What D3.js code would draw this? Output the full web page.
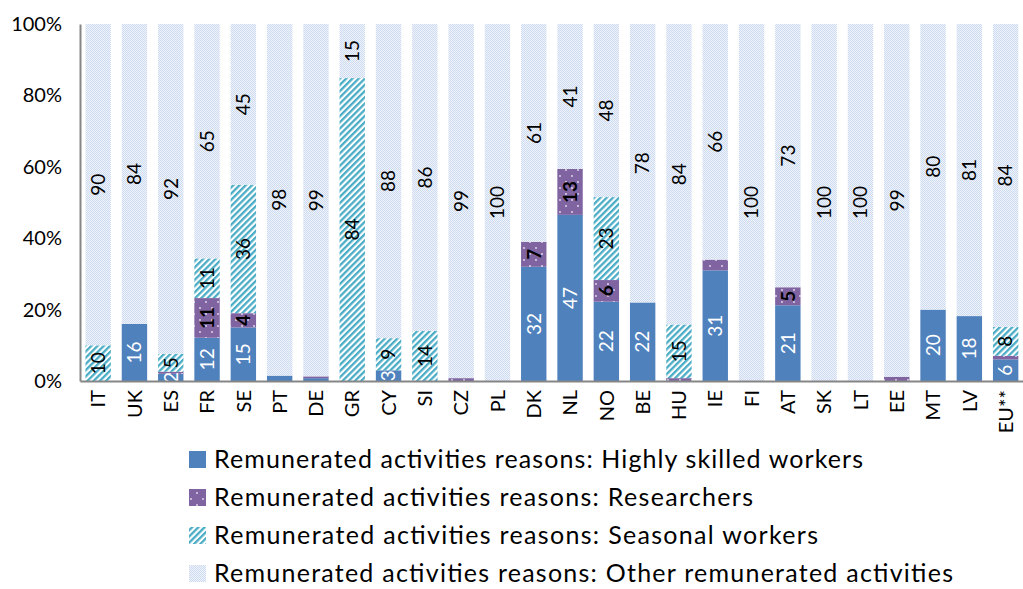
<!DOCTYPE html>
<html>
<head>
<meta charset="utf-8">
<script src="https://cdn.jsdelivr.net/npm/d3@7/dist/d3.min.js"></script>
<style>
  body { margin: 0; background: #fff; }
  text { font-family: Lato, "Open Sans", sans-serif; }
</style>
</head>
<body>
<div class="chart"></div>
<script>
var countries = ['IT','UK','ES','FR','SE','PT','DE','GR','CY','SI','CZ','PL','DK','NL','NO','BE','HU','IE','FI','AT','SK','LT','EE','MT','LV','EU**'];
var highlySkilled = [0,16,2,12,15,1.5,0.8,0,3,0,0,0,32,47,22,22,0,31,0,21,0,0,0,20,18,6];
var researchers   = [0,0,0.6,11,4,0,0.5,0,0,0,0.8,0,7,13,6,0,0.8,3,0,5,0,0,1.2,0,0,1];
var seasonal      = [10,0,5,11,36,0,0,84,9,14,0,0,0,0,23,0,15,0,0,0,0,0,0,0,0,8];
var otherActs     = [90,84,92,65,45,98,99,15,88,86,99,100,61,41,48,78,84,66,100,73,100,100,99,80,81,84];
var yTicks = [0, 0.2, 0.4, 0.6, 0.8, 1];
var seriesNames = [
  'Remunerated activities reasons: Highly skilled workers',
  'Remunerated activities reasons: Researchers',
  'Remunerated activities reasons: Seasonal workers',
  'Remunerated activities reasons: Other remunerated activities'
];
var noLabel = ['IE|1']; // researchers label not shown for IE

var keys = ['hs','re','se','ot'];
var rows = countries.map(function(c, i) {
  return { c: c, hs: highlySkilled[i], re: researchers[i], se: seasonal[i], ot: otherActs[i] };
});

var W = 1023, H = 589;
var svg = d3.select('.chart').append('svg').attr('width', W).attr('height', H);

// patterns
var defs = svg.append('defs');
var pr = defs.append('pattern').attr('id', 'p-re').attr('patternUnits', 'userSpaceOnUse')
  .attr('width', 12).attr('height', 12);
pr.append('rect').attr('width', 12).attr('height', 12).attr('fill', '#8064A2');
pr.append('circle').attr('cx', 2).attr('cy', 2).attr('r', 0.9).attr('fill', '#e8e0f0');
pr.append('circle').attr('cx', 8).attr('cy', 8).attr('r', 0.9).attr('fill', '#e8e0f0');

var ps = defs.append('pattern').attr('id', 'p-se').attr('patternUnits', 'userSpaceOnUse')
  .attr('width', 4.4).attr('height', 4.4).attr('patternTransform', 'rotate(45)');
ps.append('rect').attr('width', 4.4).attr('height', 4.4).attr('fill', '#fff');
ps.append('rect').attr('width', 2.3).attr('height', 4.4).attr('fill', '#4BACC6');

var po = defs.append('pattern').attr('id', 'p-ot').attr('patternUnits', 'userSpaceOnUse')
  .attr('width', 2).attr('height', 2);
po.append('rect').attr('width', 2).attr('height', 2).attr('fill', '#f0f4fa');
po.append('rect').attr('width', 1).attr('height', 1).attr('fill', '#cddbf0');
po.append('rect').attr('x', 1).attr('y', 1).attr('width', 1).attr('height', 1).attr('fill', '#cddbf0');

var fills = { hs: '#4F81BD', re: 'url(#p-re)', se: 'url(#p-se)', ot: 'url(#p-ot)' };
var labelColor = { hs: '#fff', re: '#000', se: '#000', ot: '#000' };

var x = d3.scaleBand().domain(countries).range([80, 80 + 26 * 36.3])
  .paddingInner(0.3).paddingOuter(0.15);
var y = d3.scaleLinear().domain([0, 1]).range([381, 24]);

var stacked = d3.stack().keys(keys).offset(d3.stackOffsetExpand)(rows);

var layers = svg.selectAll('g.layer').data(stacked).enter().append('g')
  .attr('class', 'layer').attr('fill', function(d) { return fills[d.key]; });

layers.selectAll('rect').data(function(d) { return d; }).enter().append('rect')
  .attr('x', function(d) { return x(d.data.c); })
  .attr('width', x.bandwidth())
  .attr('y', function(d) { return y(d[1]); })
  .attr('height', function(d) { return y(d[0]) - y(d[1]); });

// data labels
stacked.forEach(function(layer, k) {
  svg.append('g').selectAll('text')
    .data(layer.filter(function(d) {
      var v = d.data[layer.key];
      return v >= 2 && noLabel.indexOf(d.data.c + '|' + k) < 0;
    }))
    .enter().append('text')
    .attr('transform', function(d) {
      var cx = x(d.data.c) + x.bandwidth() / 2;
      var cy = (y(d[0]) + y(d[1])) / 2;
      return 'translate(' + cx + ',' + cy + ') rotate(-90)';
    })
    .attr('text-anchor', 'middle').attr('dy', '0.36em')
    .style('font-size', '19px')
    .style('font-weight', layer.key === 're' ? 'bold' : 'normal')
    .attr('fill', labelColor[layer.key])
    .text(function(d) { return Math.round(d.data[layer.key]); });
});

// axes
var yAxis = svg.append('g').attr('transform', 'translate(80,0)')
  .call(d3.axisLeft(y).tickValues(yTicks).tickFormat(d3.format('.0%')).tickSize(0).tickPadding(18));
yAxis.select('.domain').attr('stroke', '#868686').attr('stroke-width', 2);
yAxis.selectAll('text').style('font-size', '20px').attr('fill', '#000');

var xAxis = svg.append('g').attr('transform', 'translate(0,381)')
  .call(d3.axisBottom(x).tickSize(0).tickSizeOuter(0));
xAxis.select('.domain').attr('stroke', '#868686').attr('stroke-width', 2);
xAxis.selectAll('text')
  .style('font-size', '20px').attr('fill', '#000')
  .attr('text-anchor', 'end')
  .attr('transform', 'rotate(-90)')
  .attr('x', -9).attr('y', 0).attr('dy', '0.36em');

// legend
var legFills = [fills.hs, fills.re, fills.se, fills.ot];
var leg = svg.append('g').selectAll('g').data(seriesNames).enter().append('g')
  .attr('transform', function(d, i) { return 'translate(189,' + (459 + i * 38) + ')'; });
leg.append('rect').attr('x', 0).attr('y', -8).attr('width', 17).attr('height', 17)
  .attr('fill', function(d, i) { return legFills[i]; });
leg.append('text').attr('x', 25).attr('dy', '0.36em')
  .style('font-size', '25px').attr('fill', '#000')
  .attr('textLength', function(d, i) { return [649, 539, 604, 739][i]; })
  .attr('lengthAdjust', 'spacing')
  .text(function(d) { return d; });
</script>
</body>
</html>
